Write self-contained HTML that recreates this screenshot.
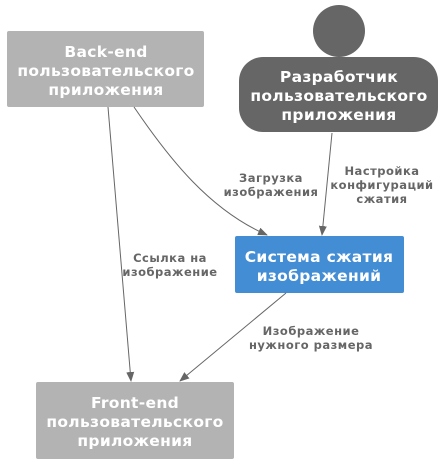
<!DOCTYPE html>
<html><head><meta charset="utf-8"><style>
html,body{margin:0;padding:0;background:#fff;}
svg text{font-family:"DejaVu Sans","Liberation Sans",sans-serif;font-weight:bold;}
</style></head><body>
<svg width="447" height="466" viewBox="0 0 447 466" xmlns="http://www.w3.org/2000/svg">
<defs><marker id="a" markerWidth="10" markerHeight="10" refX="9" refY="5" orient="auto" markerUnits="userSpaceOnUse"><path d="M0,1 L10,5 L0,9 Z" fill="#666"/></marker></defs>
<rect x="7" y="31" width="197" height="76" rx="2" fill="#b3b3b3"/>
<circle cx="339" cy="31" r="26" fill="#666"/>
<rect x="239" y="57" width="199" height="75" rx="24" fill="#666"/>
<rect x="235" y="236" width="169" height="57" rx="2" fill="#438dd5"/>
<rect x="36" y="382" width="198" height="77" rx="2" fill="#b3b3b3"/>
<g stroke="#666" stroke-width="1" fill="none">
<path d="M108,107 L131,381" marker-end="url(#a)"/>
<path d="M134,107 C170,160 210,210 267,235" marker-end="url(#a)"/>
<path d="M332,133 L322,235" marker-end="url(#a)"/>
<path d="M286,293 L180,381" marker-end="url(#a)"/>
</g>
<g fill="#fff" font-size="15.5" text-anchor="middle" letter-spacing="0.3">
<text x="106" y="57">Back-end</text><text x="106" y="76">пользовательского</text><text x="106" y="95">приложения</text>
<text x="339" y="82">Разработчик</text><text x="339" y="101">пользовательского</text><text x="339" y="120">приложения</text>
<text x="319" y="262">Система сжатия</text><text x="319" y="281">изображений</text>
<text x="135" y="408">Front-end</text><text x="135" y="427">пользовательского</text><text x="135" y="446">приложения</text>
</g>
<g fill="#666" font-size="11.5" text-anchor="middle" letter-spacing="0.5">
<text x="271" y="182">Загрузка</text><text x="271" y="196">изображения</text>
<text x="382" y="175">Настройка</text><text x="382" y="189">конфигураций</text><text x="382" y="203">сжатия</text>
<text x="170" y="262">Ссылка на</text><text x="170" y="276">изображение</text>
<text x="311" y="335">Изображение</text><text x="311" y="349">нужного размера</text>
</g>
</svg>
</body></html>
